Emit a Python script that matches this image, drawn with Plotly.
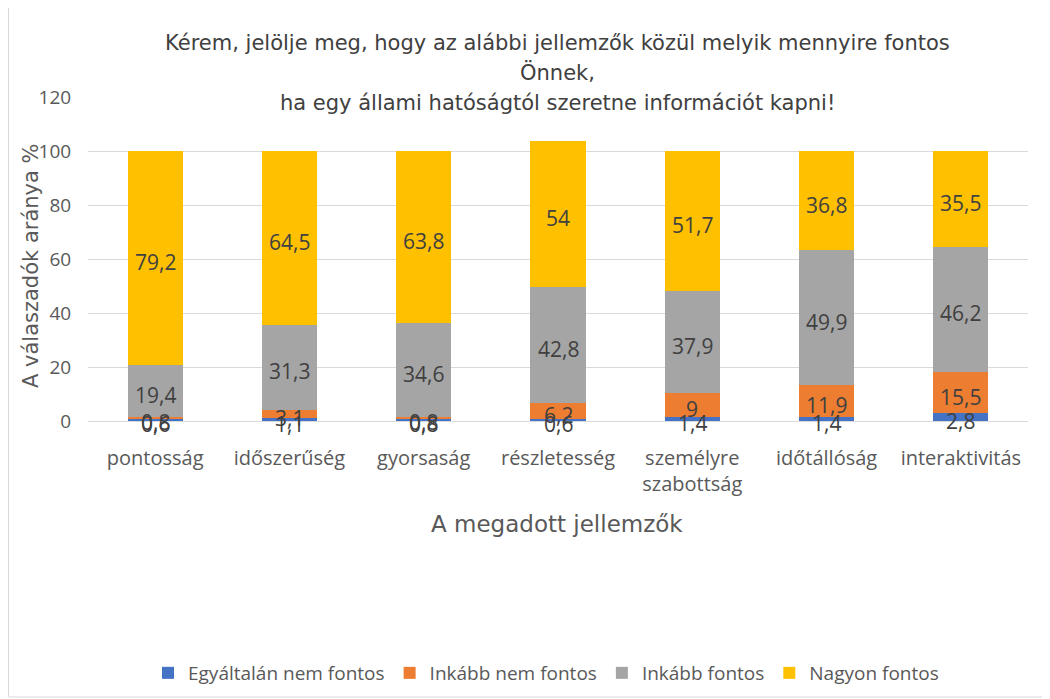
import plotly.graph_objects as go

categories = ["pontosság", "időszerűség", "gyorsaság", "részletesség",
              "személyre<br>szabottság", "időtállóság", "interaktivitás"]
series_names = ["Egyáltalán nem fontos", "Inkább nem fontos", "Inkább fontos", "Nagyon fontos"]
egyaltalan = [0.6, 1.1, 0.8, 0.6, 1.4, 1.4, 2.8]
inkabb_nem = [0.8, 3.1, 0.8, 6.2, 9, 11.9, 15.5]
inkabb = [19.4, 31.3, 34.6, 42.8, 37.9, 49.9, 46.2]
nagyon = [79.2, 64.5, 63.8, 54, 51.7, 36.8, 35.5]
colors = ["#4472C4", "#ED7D31", "#A5A5A5", "#FFC000"]

series = [egyaltalan, inkabb_nem, inkabb, nagyon]
font = "Open Sans"
wide = "DejaVu Sans"

fig = go.Figure()
for name, vals, col in zip(series_names, series, colors):
    fig.add_trace(go.Bar(x=categories, y=vals, name=name, marker_color=col,
                         marker_line_width=0, hoverinfo="skip"))

# data labels at segment centres
base = [0.0] * len(categories)
for vals in series:
    for c, b, v in zip(categories, base, vals):
        fig.add_annotation(x=c, y=b + v / 2, xref="x", yref="y",
                           text=str(v).replace(".", ","), showarrow=False,
                           xanchor="center", yanchor="middle", yshift=-4,
                           font=dict(size=21, color="#404040", family=font))
    base = [b + v for b, v in zip(base, vals)]

OFF = 8  # page offset of the screenshot
W, H = 1050, 699
L, R = 88 - OFF, W - (1028 - OFF)
T, B = 97 - OFF, H - (421 - OFF)
pw, ph = W - L - R, H - T - B

def px(x):
    return (x - OFF - L) / pw

def py(y):
    return (H - B - (y - OFF)) / ph

fig.update_layout(
    width=W, height=H,
    margin=dict(l=L, r=R, t=T, b=B),
    barmode="stack", bargap=0.59,
    paper_bgcolor="white", plot_bgcolor="white",
    font=dict(family=font, color="#595959"),
    showlegend=True,
    legend=dict(orientation="h", x=px(546), y=py(673), xanchor="center", yanchor="middle",
                font=dict(size=19, color="#595959", family=font), traceorder="normal"),
    xaxis=dict(tickfont=dict(size=20, color="#595959"), showgrid=False,
               showline=False, ticks="outside", ticklen=19, tickcolor="rgba(0,0,0,0)"),
    yaxis=dict(range=[0, 120], dtick=20, showgrid=True, gridcolor="#D9D9D9",
               zeroline=True, zerolinecolor="#D9D9D9", zerolinewidth=1,
               tickfont=dict(size=19, color="#595959"), ticks="outside",
               ticklen=12, tickcolor="rgba(0,0,0,0)", showline=False),
)

title_lines = ["Kérem, jelölje meg, hogy az alábbi jellemzők közül melyik mennyire fontos",
               "Önnek,",
               "ha egy állami hatóságtól szeretne információt kapni!"]
for i, t in enumerate(title_lines):
    fig.add_annotation(text=t, xref="paper", yref="paper", x=px(557), y=py(43 + 30 * i),
                       xanchor="center", yanchor="middle", showarrow=False,
                       font=dict(size=21, color="#404040", family=wide))

fig.add_annotation(text="A megadott jellemzők", xref="paper", yref="paper",
                   x=px(557), y=py(524), xanchor="center", yanchor="middle",
                   showarrow=False, font=dict(size=23, color="#595959", family=wide))
fig.add_annotation(text="A válaszadók aránya %", xref="paper", yref="paper",
                   x=px(31), y=py(266), xanchor="center", yanchor="middle", textangle=-90,
                   showarrow=False, font=dict(size=21, color="#595959", family=wide))

fig.add_shape(type="rect", xref="paper", yref="paper",
              x0=px(8.5), x1=px(1062), y0=py(697), y1=py(-10),
              line=dict(color="#D9D9D9", width=1), fillcolor="rgba(0,0,0,0)", layer="below")

fig.write_html("out.html")
